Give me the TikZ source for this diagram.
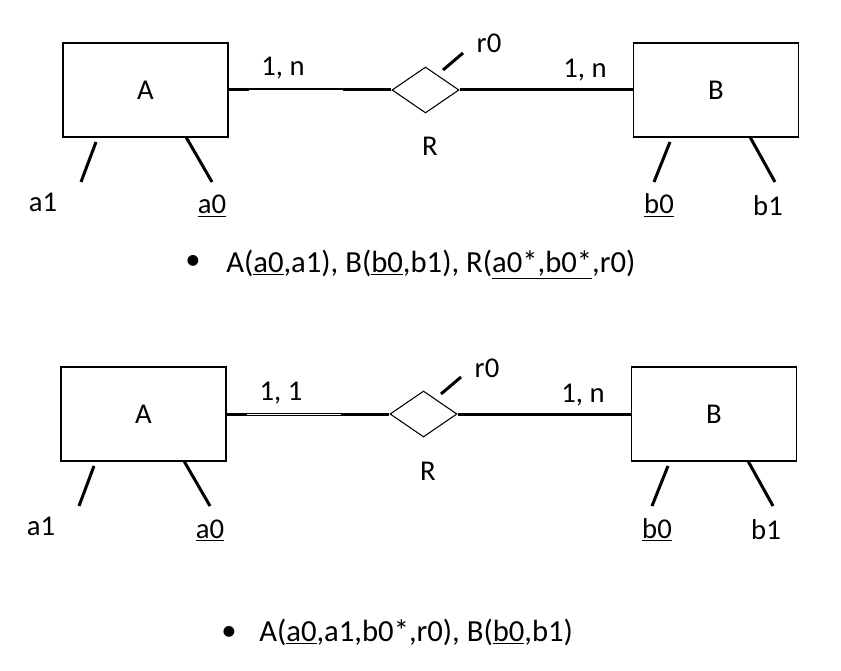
\documentclass[tikz,border=0pt]{standalone}
\usepackage{fontspec}
\setmainfont{Carlito}
\usetikzlibrary{shapes.geometric}

\tikzset{
  entity/.style={draw, line width=0.8pt, minimum width=123.75pt, minimum height=70.5pt, inner sep=0pt, font=\fontsize{21.5}{24}\selectfont},
  relation/.style={draw, diamond, line width=0.8pt, minimum width=50.25pt, minimum height=34.5pt, inner sep=0pt},
  link/.style={line width=2.25pt},
  lbl/.style={font=\fontsize{21.5}{24}\selectfont, inner sep=0pt, anchor=base},
  bulltext/.style={font=\fontsize{23}{26}\selectfont, inner sep=0pt, anchor=base west},
}

\begin{document}
\begin{tikzpicture}[x=0.75pt, y=-0.75pt]
\useasboundingbox (0,0) rectangle (841,670);
% the two diagrams only differ in the cardinality on the A side
\foreach \dx/\dy/\card [count=\k] in {0/0/{1, n}, -2/324/{1, 1}} {
\begin{scope}[shift={(\dx,\dy)}]
 \node[entity] (A\k) at (145.5,90) {A};
 \node[entity] (B\k) at (716,90) {B};
 \node[relation] (R\k) at (425.5,90) {};
 \node[lbl] (Rl\k) at (430,156) {R};
 \node[lbl] (r0\k) at (489,53) {r0};
 \node[lbl] (cA\k) at (283,76) {\card};
 \node[lbl] (cB\k) at (585,78) {1, n};
 \node[lbl] (a1\k) at (43,211) {a1};
 \node[lbl] (a0\k) at (212,214) {\underline{a0}};
 \node[lbl] (b0\k) at (659,214) {\underline{b0}};
 \node[lbl] (b1\k) at (768,215) {b1};
 % connectors
 \draw[link] (A\k.east) -- (R\k.west);
 \draw[link] (R\k.east) -- (B\k.west);
 \coordinate (w1\k) at (249,90);
 \coordinate (w2\k) at (343,90);
 \draw[white, line width=0.7pt] (w1\k) -- (w2\k);
 % attribute strokes
 \draw[link] (443,70) -- (463,53);
 \draw[link] (96,142) -- (81,182);
 \draw[link] (186,137) -- (212,182);
 \draw[link] (670,142) -- (654,182);
 \draw[link] (750,137) -- (775,182);
\end{scope}
}
\node[bulltext, anchor=center] (bul1) at (193,262) {\textbullet};
\node[bulltext] (txt1) at (226,272) {A(\underline{a0},a1), B(\underline{b0},b1), R(\underline{a0*,b0*},r0)};
\node[bulltext, anchor=center] (bul2) at (229,633) {\textbullet};
\node[bulltext] (txt2) at (259,641) {A(\underline{a0},a1,b0*,r0), B(\underline{b0},b1)};
\end{tikzpicture}
\end{document}
